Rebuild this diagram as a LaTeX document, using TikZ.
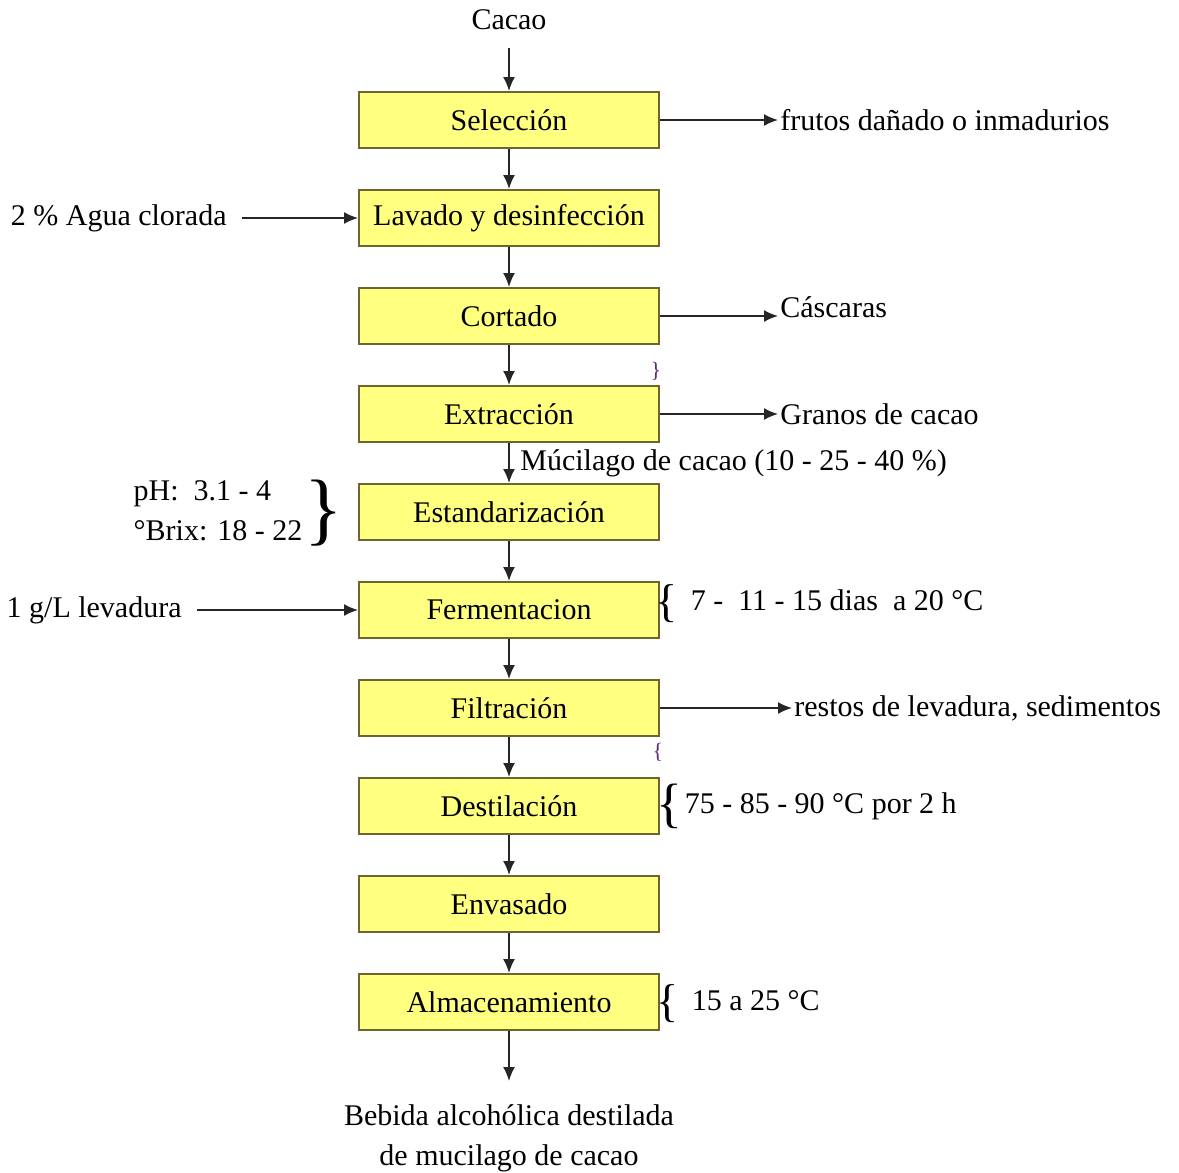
\documentclass[tikz,border=0pt]{standalone}
\usepackage{fontspec}
\setmainfont{Liberation Serif}
\usetikzlibrary{arrows.meta, positioning}
\definecolor{boxfill}{HTML}{FFFF80}
\definecolor{boxline}{HTML}{6E6432}
\definecolor{linegray}{HTML}{262626}
\definecolor{stray}{HTML}{5A2A6E}

\begin{document}
\begin{tikzpicture}[
    x=0.5pt, y=-0.5pt,
    >={Latex[length=7pt, width=6pt]},
    every node/.style={font=\fontsize{15}{20}\selectfont},
    stage/.style={draw=boxline, line width=1pt, fill=boxfill,
                  minimum width=150pt, minimum height=28pt, inner sep=0pt},
    lbl/.style={inner sep=1pt},
    note/.style={inner sep=0pt, anchor=west},
    brace/.style={inner sep=0pt, font=\fontsize{#1}{#1}\selectfont},
    flow/.style={->, line width=0.8pt, draw=linegray},
    node distance=20pt,
]
\useasboundingbox (0,0) rectangle (1179,1173);
\node[lbl, minimum height=28pt] (cacao) at (509,20) {Cacao};
\node[stage] (sel) at (509,120) {Selección};
\node[stage, below=of sel]  (lav)  {Lavado y desinfección};
\node[stage, below=of lav]  (cort) {Cortado};
\node[stage, below=of cort] (ext)  {Extracción};
\node[stage, below=of ext]  (est)  {Estandarización};
\node[stage, below=of est]  (ferm) {Fermentacion};
\node[stage, below=of ferm] (fil)  {Filtración};
\node[stage, below=of fil]  (dest) {Destilación};
\node[stage, below=of dest] (env)  {Envasado};
\node[stage, below=of env]  (alm)  {Almacenamiento};
\node[lbl, below=25pt of alm, align=center, inner ysep=11.5pt] (beb)
      {Bebida alcohólica destilada\\de mucilago de cacao};
% salidas a la derecha
\node[lbl, right=59pt of sel]  (frut) {frutos dañado o inmadurios};
\node[lbl, right=59pt of cort, yshift=4.5pt] (cas) {Cáscaras};
\node[lbl, right=59pt of ext]  (gran) {Granos de cacao};
\node[lbl, right=66pt of fil]  (rest) {restos de levadura, sedimentos};
% entradas por la izquierda
\node[lbl, left=58pt of lav, inner xsep=7.5pt]   (agua) {2 \% Agua clorada};
\node[lbl, left=80.5pt of ferm, inner xsep=7.5pt] (lev)  {1 g/L levadura};
% condiciones
\node[note] (muc) at (520,463) {Múcilago de cacao (10 - 25 - 40 \%)};
\node[lbl, align=left] (ph) at (218,511) {pH:\ \ 3.1 - 4\\°Brix: 18 - 22};
\node[brace=40] (llave) at (324,513) {\}};
\node[brace=23] (bferm) at (667,604) {\{};
\node[note, right=6pt of bferm, yshift=2pt] (tferm) {7 -\ \ 11 - 15 dias\ \ a 20 °C};
\node[brace=27] (bdest) at (669,806) {\{};
\node[note, right=1pt of bdest] (tdest) {75 - 85 - 90 °C por 2 h};
\node[brace=23] (balm) at (668,1004) {\{};
\node[note, right=6pt of balm, yshift=1.5pt] (talm) {15 a 25 °C};
\node[brace=11, text=stray] (m1) at (656,371) {\}};
\node[brace=11, text=stray] (m2) at (658,752) {\{};
% flujo principal
\draw[flow] (cacao) -- (sel);
\draw[flow] (sel)  -- (lav);
\draw[flow] (lav)  -- (cort);
\draw[flow] (cort) -- (ext);
\draw[flow] (ext)  -- (est);
\draw[flow] (est)  -- (ferm);
\draw[flow] (ferm) -- (fil);
\draw[flow] (fil)  -- (dest);
\draw[flow] (dest) -- (env);
\draw[flow] (env)  -- (alm);
\draw[flow] (alm)  -- (beb);
\draw[flow] (sel)  -- (frut);
\draw[flow] (cort) -- (cort -| cas.west);
\draw[flow] (ext)  -- (gran);
\draw[flow] (fil)  -- (rest);
\draw[flow] (agua) -- (lav);
\draw[flow] (lev)  -- (ferm);
\end{tikzpicture}
\end{document}
